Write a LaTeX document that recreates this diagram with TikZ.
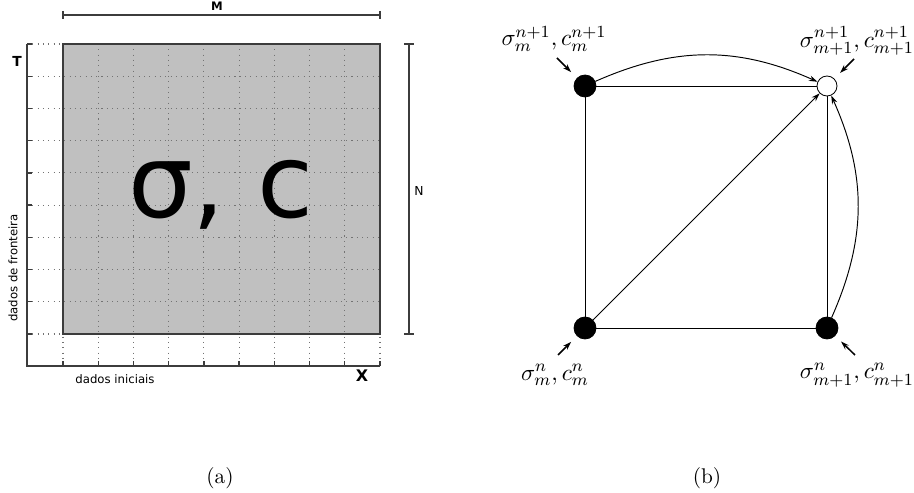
\documentclass[tikz,border=0pt]{standalone}
\usepackage{fontspec}
\usepackage{amsmath}
\usetikzlibrary{arrows.meta, positioning, calc}
\newfontfamily\dejavu{DejaVu Sans}
\definecolor{GridFill}{RGB}{192, 192, 192}
\definecolor{AxisGray}{RGB}{60, 60, 60}
\definecolor{DotGray}{RGB}{115, 115, 115}

\begin{document}
\begin{tikzpicture}[x=0.47pt, y=-0.47pt, >={Stealth[length=4pt, width=2.6pt]},
    dot/.style={circle, fill=black, draw=black, inner sep=0pt, minimum size=10.3pt},
    opendot/.style={circle, fill=white, draw=black, line width=0.4pt, inner sep=0pt, minimum size=9.4pt},
    val/.style={font=\fontsize{11}{13}\selectfont, inner sep=1pt},
    edge/.style={line width=0.45pt},
    pointer/.style={->, line width=0.7pt, shorten >=3.8pt},
    tag/.style={font=\dejavu\fontsize{5.5}{6}\selectfont, inner sep=0pt},
    axisline/.style={draw=AxisGray, line width=0.6pt},
    gridline/.style={draw=DotGray, dotted, line width=0.5pt}
  ]
  \useasboundingbox (0,0) rectangle (914,493);

  % (a) malha
  \fill[GridFill] (63,44) rectangle (380,334);
  \foreach \i in {0,...,9} {
    \draw[gridline] (27,{44+\i*290/9}) -- (380,{44+\i*290/9});
    \draw[gridline] ({63+\i*317/9},44) -- ({63+\i*317/9},366);
    \draw[axisline] (27,{44+\i*290/9}) -- (32,{44+\i*290/9});
    \draw[axisline] ({63+\i*317/9},366) -- ({63+\i*317/9},361);
  }
  \draw[AxisGray, line width=0.55pt] (63,44) rectangle (380,334);
  \draw[axisline] (27,44) -- (27,366) -- (380,366);

  % cotas
  \draw[axisline] (63,15) -- (380,15);
  \draw[axisline] (63,11) -- (63,19);
  \draw[axisline] (380,11) -- (380,19);
  \draw[axisline] (409,44) -- (409,334);
  \draw[axisline] (404,44) -- (414,44);
  \draw[axisline] (404,334) -- (414,334);

  \node[tag, font=\dejavu\bfseries\fontsize{5.5}{6}\selectfont] (mlab) at (217,6) {M};
  \node[tag, font=\dejavu\fontsize{5.8}{6}\selectfont] (nlab) at (419,191) {N};
  \node[tag, font=\dejavu\bfseries\fontsize{6.5}{7}\selectfont] (tlab) at (17,61) {T};
  \node[tag, font=\dejavu\bfseries\fontsize{7.5}{8}\selectfont] (xlab) at (362,376) {X};
  \node[tag, rotate=90] (front) at (13,268) {dados de fronteira};
  \node[tag] (init) at (115,379) {dados iniciais};
  \node[font=\dejavu\fontsize{48}{50}\selectfont, anchor=base, inner sep=0pt] (sc) at (221,218) {σ, c};

  % (b) estencil
  \node[dot] (tl) at (585,86) {};
  \node[opendot] (tr) at (827,86) {};
  \node[dot] (bl) at (585,328) {};
  \node[dot] (br) at (827,328) {};

  \draw[edge] (tl) -- (tr) -- (br) -- (bl) -- (tl);
  \draw[edge, ->] (bl) -- (tr);
  \draw[edge, ->] (tl) to[bend left=24] (tr);
  \draw[edge, ->] (br) to[bend right=24] (tr);

  \coordinate (ptl) at ($(tl)+(-28,-28)$);
  \coordinate (ptr) at ($(tr)+(27,-27)$);
  \coordinate (pbl) at ($(bl)+(-27,27)$);
  \coordinate (pbr) at ($(br)+(28,27)$);
  \draw[pointer] (ptl) -- (tl);
  \draw[pointer] (ptr) -- (tr);
  \draw[pointer] (pbl) -- (bl);
  \draw[pointer] (pbr) -- (br);

  \node[val] (vtl) at (554,39) {$\sigma_m^{n+1}, c_m^{n+1}$};
  \node[val] (vtr) at (857,41) {$\sigma_{m+1}^{n+1}, c_{m+1}^{n+1}$};
  \node[val] (vbl) at (555,375) {$\sigma_m^{n}, c_m^{n}$};
  \node[val] (vbr) at (857,375) {$\sigma_{m+1}^{n}, c_{m+1}^{n}$};

  % legendas
  \node (capa) at (220,478) {(a)};
  \node (capb) at (707,478) {(b)};
\end{tikzpicture}
\end{document}
